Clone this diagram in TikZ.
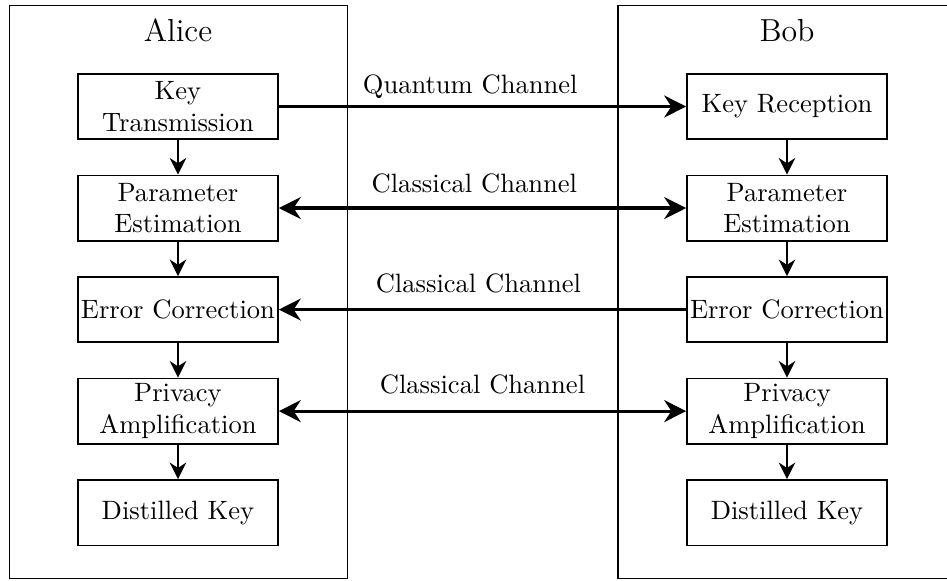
\documentclass[tikz,border=0pt]{standalone}
\usepackage{tikz}
\usetikzlibrary{arrows.meta,positioning}
\tikzset{
    % Define standard node styles
    partybox/.style={
        rectangle, draw=black, line width=0.5pt,
        minimum width=4.475cm, minimum height=7.585cm, inner sep=0pt
    },
    partylabel/.style={
        font=\large, anchor=base
    },
    stepbox/.style={
        rectangle, draw=black, semithick, fill=white,
        text width=2.6cm, align=center, minimum height=0.866cm,
        inner sep=0.7pt
    },
    flowarrow/.style={
        -{Stealth[length=2.2mm, width=2.2mm]}, semithick, color=black
    },
    channel/.style={
        very thick, color=black
    },
    chantip/.tip={Stealth[length=2.9mm, width=2.9mm]}
}
\begin{document}
\begin{tikzpicture}[node distance=0.457cm]
\useasboundingbox (0,0) rectangle (12.536,-7.691);

% the two parties
\node[partybox] (alice) at (2.363,-3.866) {};
\node[partybox] (bob) at (10.418,-3.866) {};
\node[partylabel] (alice_name) at (2.356,-0.551) {Alice};
\node[partylabel] (bob_name) at (10.418,-0.551) {Bob};

% Alice's steps
\node[stepbox] (a_keytx) at (2.356,-1.410) {Key\\Transmission};
\node[stepbox, below=of a_keytx] (a_param) {Parameter\\Estimation};
\node[stepbox, below=of a_param] (a_errcorr) {Error Correction};
\node[stepbox, below=of a_errcorr] (a_privacy) {Privacy\\Amplification};
\node[stepbox, below=of a_privacy] (a_key) {Distilled Key};

% Bob's steps
\node[stepbox] (b_keyrx) at (10.418,-1.410) {Key Reception};
\node[stepbox, below=of b_keyrx] (b_param) {Parameter\\Estimation};
\node[stepbox, below=of b_param] (b_errcorr) {Error Correction};
\node[stepbox, below=of b_errcorr] (b_privacy) {Privacy\\Amplification};
\node[stepbox, below=of b_privacy] (b_key) {Distilled Key};

\draw[flowarrow] (a_keytx) -- (a_param);
\draw[flowarrow] (a_param) -- (a_errcorr);
\draw[flowarrow] (a_errcorr) -- (a_privacy);
\draw[flowarrow] (a_privacy) -- (a_key);

\draw[flowarrow] (b_keyrx) -- (b_param);
\draw[flowarrow] (b_param) -- (b_errcorr);
\draw[flowarrow] (b_errcorr) -- (b_privacy);
\draw[flowarrow] (b_privacy) -- (b_key);

% channels between Alice and Bob
\draw[channel, -chantip] (a_keytx) -- node[above=-1pt, pos=0.47] {Quantum Channel} (b_keyrx);
\draw[channel, chantip-chantip] (a_param) -- node[above=1.7pt, pos=0.48] {Classical Channel} (b_param);
\draw[channel, -chantip] (b_errcorr) -- node[above=2.1pt, pos=0.51] {Classical Channel} (a_errcorr);
\draw[channel, chantip-chantip] (a_privacy) -- node[above=2.6pt, pos=0.5] {Classical Channel} (b_privacy);

\end{tikzpicture}
\end{document}
